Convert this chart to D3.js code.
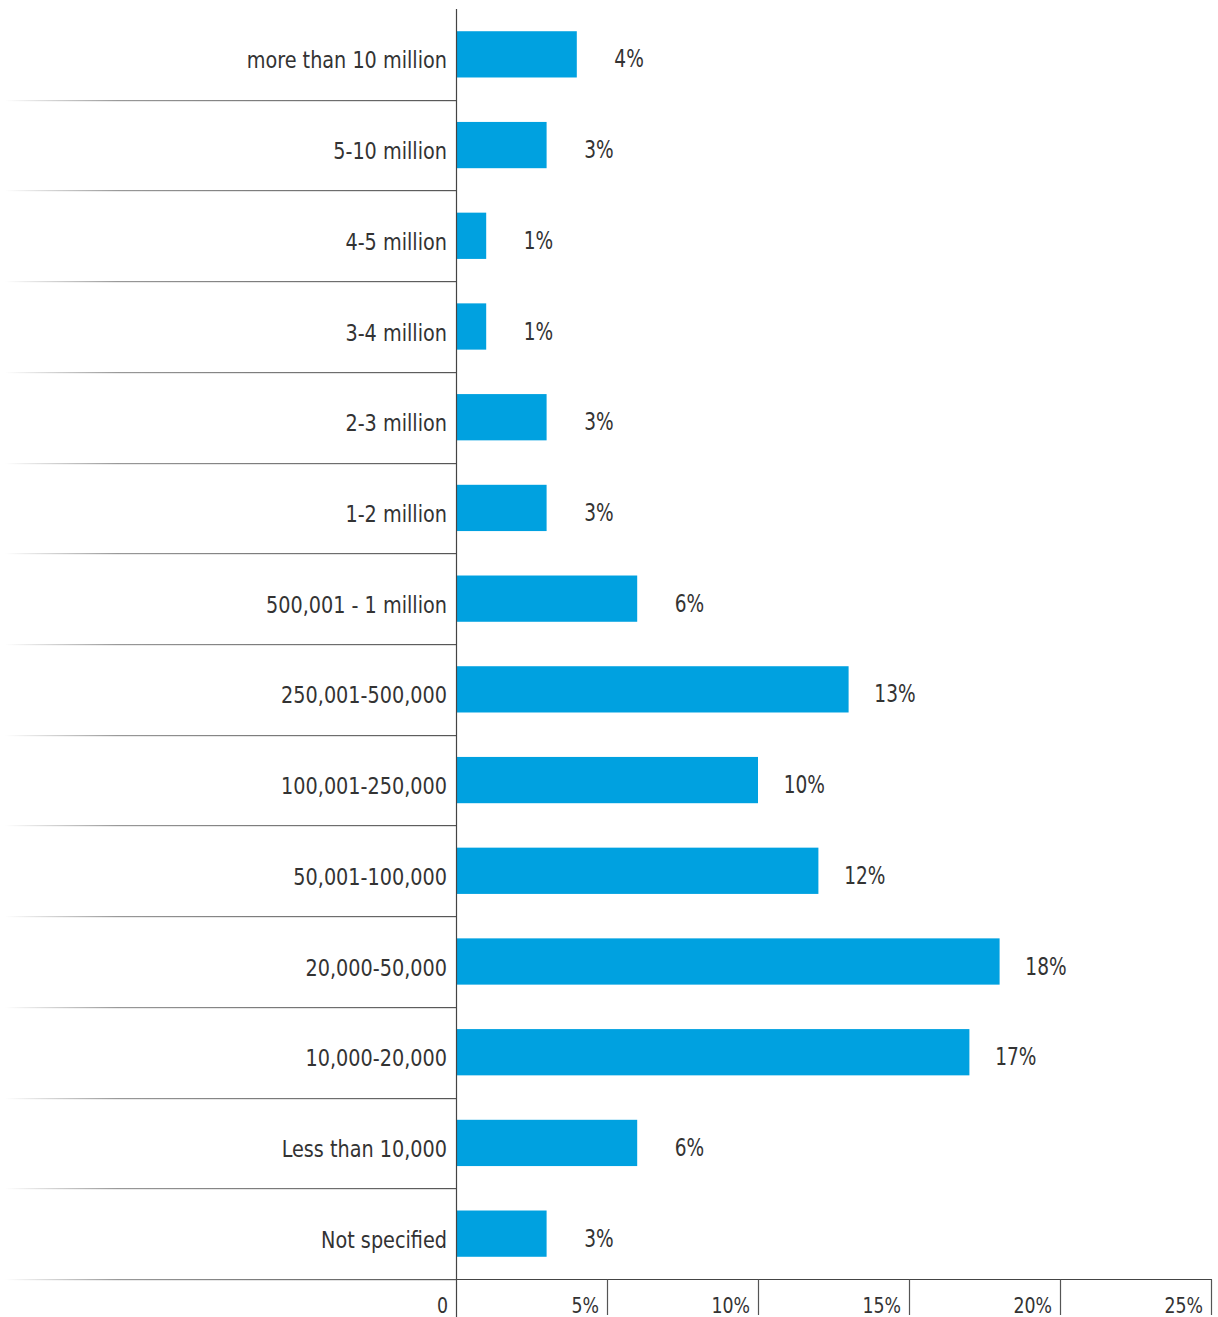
<!DOCTYPE html>
<html>
<head>
<meta charset="utf-8">
<script src="https://cdn.jsdelivr.net/npm/d3@7"></script>
<style>
  html, body { margin: 0; padding: 0; background: #fff; }
  svg text { font-family: "DejaVu Sans Condensed", "DejaVu Sans", sans-serif; fill: #333; }
</style>
</head>
<body>
<svg id="chart" width="1218" height="1317"></svg>
<script>
// Company revenue brackets and share of respondents (%)
const categories = [
  "more than 10 million", "5-10 million", "4-5 million", "3-4 million",
  "2-3 million", "1-2 million", "500,001 - 1 million", "250,001-500,000",
  "100,001-250,000", "50,001-100,000", "20,000-50,000", "10,000-20,000",
  "Less than 10,000", "Not specified"
];
const values = [4, 3, 1, 1, 3, 3, 6, 13, 10, 12, 18, 17, 6, 3];
const tickValues = [0, 5, 10, 15, 20, 25];
const tickLabels = ["0", "5%", "10%", "15%", "20%", "25%"];

const svg = d3.select("#chart");
const plotLeft = 456, plotRight = 1211, plotTop = 9, plotBottom = 1279;

const x = d3.scaleLinear().domain([0, 25]).range([plotLeft, plotRight]);
const y = d3.scaleBand().domain(categories).range([plotTop, plotBottom]).paddingInner(0.49).paddingOuter(0.245);

// fading separator gradient
const defs = svg.append("defs");
const grad = defs.append("linearGradient").attr("id", "fade").attr("x1", "0").attr("x2", "1");
grad.append("stop").attr("offset", "0").attr("stop-color", "#fff");
grad.append("stop").attr("offset", "0.25").attr("stop-color", "#999");
grad.append("stop").attr("offset", "1").attr("stop-color", "#555");

const step = y.step();
// row separators under each category
categories.forEach((c, i) => {
  const yy = Math.round(plotTop + step * (i + 1));
  svg.append("rect")
    .attr("x", 5).attr("y", yy)
    .attr("width", plotLeft - 5).attr("height", 1.2)
    .attr("fill", "url(#fade)");
});

// bottom axis line across the plot
const yAxis = Math.round(plotBottom) + 0.5;
svg.append("line")
  .attr("x1", plotLeft).attr("x2", plotRight + 1)
  .attr("y1", yAxis).attr("y2", yAxis)
  .attr("stroke", "#444").attr("stroke-width", 1.2);

// bars
svg.append("g").selectAll("rect").data(values).join("rect")
  .attr("x", x(0))
  .attr("y", (d, i) => y(categories[i]))
  .attr("width", d => x(d) - x(0))
  .attr("height", y.bandwidth())
  .attr("fill", "#00a1e0");

// value labels (narrowed horizontally)
svg.append("g").selectAll("text").data(values).join("text")
  .attr("transform", (d, i) => `translate(${x(d) + 67},${y(categories[i]) + y.bandwidth() / 2 + 13}) scale(0.86,1)`)
  .attr("text-anchor", "end")
  .attr("font-size", 24)
  .text(d => d + "%");

// category labels
svg.append("g").selectAll("text").data(categories).join("text")
  .attr("transform", d => `translate(${plotLeft - 9},${y(d) + y.bandwidth() / 2 + 14}) scale(0.93,1)`)
  .attr("text-anchor", "end")
  .attr("font-size", 23)
  .text(d => d);

// vertical baseline
svg.append("line")
  .attr("x1", plotLeft + 0.5).attr("x2", plotLeft + 0.5)
  .attr("y1", plotTop).attr("y2", 1317)
  .attr("stroke", "#444").attr("stroke-width", 1.2);

// x ticks below the plot
const ticks = svg.append("g");
tickValues.forEach((v, i) => {
  if (v > 0) {
    ticks.append("line")
      .attr("x1", Math.round(x(v)) + 0.5).attr("x2", Math.round(x(v)) + 0.5)
      .attr("y1", yAxis).attr("y2", 1315)
      .attr("stroke", "#555").attr("stroke-width", 1.2);
  }
  ticks.append("text")
    .attr("transform", `translate(${x(v) - 8},1313) scale(0.92,1)`)
    .attr("text-anchor", "end")
    .attr("font-size", 21)
    .text(tickLabels[i]);
});
</script>
</body>
</html>
